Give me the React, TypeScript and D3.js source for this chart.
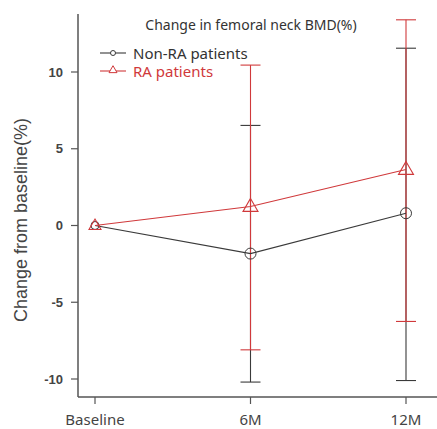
import React from "react";
import * as d3 from "d3";

const categories = ["Baseline", "6M", "12M"];
const nonRAMean = [0, -1.83, 0.8];
const nonRAUpper = [0, 6.52, 11.55];
const nonRALower = [0, -10.2, -10.1];
const raMean = [0, 1.24, 3.65];
const raUpper = [0, 10.45, 13.4];
const raLower = [0, -8.1, -6.25];
const yTicks = [-10, -5, 0, 5, 10];

const W = 437, H = 429;
const RED = "#d0393b";
const DARK = "#3a3a3a";
const SANS = "'Noto Sans', 'DejaVu Sans', sans-serif";
const ARIAL = "'Liberation Sans', Arial, sans-serif";

export default function App() {
  const x = d3.scalePoint<string>().domain(categories).range([95, 406]);
  const y = d3.scaleLinear().domain([-10, 10]).range([379, 72]);
  const line = d3.line<number>().x((_, i) => x(categories[i])!).y((d) => y(d));
  const tri = (cx: number, cy: number, s: number) => {
    const h = s * 0.866;
    return `M${cx},${cy - h * 0.62}L${cx + s / 2},${cy + h * 0.38}L${cx - s / 2},${cy + h * 0.38}Z`;
  };
  const capW = 10;
  const errBars = (upper: number[], lower: number[], mean: number[], color: string, key: string) =>
    categories.map((c, i) => {
      if (i === 0) return null;
      const cx = x(c)!;
      return (
        <g key={key + i} stroke={color} strokeWidth={1.1}>
          <line x1={cx} x2={cx} y1={y(upper[i])} y2={y(mean[i])} />
          <line x1={cx} x2={cx} y1={y(mean[i])} y2={y(lower[i])} />
          <line x1={cx - capW} x2={cx + capW} y1={y(upper[i])} y2={y(upper[i])} />
          <line x1={cx - capW} x2={cx + capW} y1={y(lower[i])} y2={y(lower[i])} />
        </g>
      );
    });
  return (
    <svg width={W} height={H} style={{ position: "absolute", left: 0, top: 0, background: "#fff" }}
      fontFamily={SANS}>
      {/* axes */}
      <line x1={78} x2={78} y1={14} y2={397} stroke="#555" strokeWidth={1.5} />
      <line x1={78} x2={437} y1={397} y2={397} stroke="#555" strokeWidth={1.5} />
      {yTicks.map((t) => (
        <g key={t}>
          <line x1={71} x2={78} y1={y(t)} y2={y(t)} stroke="#555" strokeWidth={1.2} />
          <text x={63} y={y(t)} dy="0.35em" textAnchor="end" fontSize={13} fontWeight="bold" fill="#444" fontFamily={ARIAL}>{t}</text>
        </g>
      ))}
      {categories.map((c) => (
        <g key={c}>
          <line x1={x(c)!} x2={x(c)!} y1={397} y2={404} stroke="#555" strokeWidth={1.2} />
          <text x={x(c)!} y={420} dy="0.35em" textAnchor="middle" fontSize={15} fill="#444">{c}</text>
        </g>
      ))}
      <text transform={`translate(21,220) rotate(-90)`} textAnchor="middle" dy="0.35em" fontSize={18} fill="#444" fontFamily={ARIAL}>Change from baseline(%)</text>
      <text x={251} y={25} dy="0.35em" textAnchor="middle" fontSize={14} fill="#333">Change in femoral neck BMD(%)</text>
      {/* legend */}
      <line x1={100} x2={126} y1={53} y2={53} stroke={DARK} strokeWidth={1.1} />
      <circle cx={113} cy={53} r={2.5} fill="#fff" stroke={DARK} strokeWidth={1} />
      <text x={133} y={54} dy="0.35em" fontSize={15} fill="#333">Non-RA patients</text>
      <line x1={100} x2={126} y1={71} y2={71} stroke={RED} strokeWidth={1.1} />
      <path d={tri(113, 70, 8)} fill="#fff" stroke={RED} strokeWidth={1} />
      <text x={133} y={72} dy="0.35em" fontSize={15} fill={RED}>RA patients</text>
      {/* error bars */}
      {errBars(nonRAUpper, nonRALower, nonRAMean, DARK, "n")}
      {errBars(raUpper, raLower, raMean, RED, "r")}
      {/* lines */}
      <path d={line(nonRAMean)!} fill="none" stroke={DARK} strokeWidth={1.1} />
      <path d={line(raMean)!} fill="none" stroke={RED} strokeWidth={1.1} />
      {nonRAMean.map((v, i) => (
        <circle key={"c" + i} cx={x(categories[i])!} cy={y(v)} r={i === 0 ? 4 : 5.5} fill="none" stroke={DARK} strokeWidth={1} />
      ))}
      {raMean.map((v, i) => (
        <path key={"t" + i} d={tri(x(categories[i])!, y(v), i === 0 ? 12 : 15)} fill="none" stroke={RED} strokeWidth={1.1} />
      ))}
    </svg>
  );
}
